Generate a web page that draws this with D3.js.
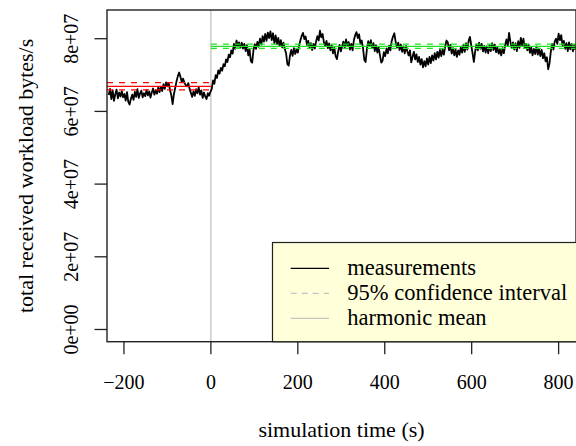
<!DOCTYPE html>
<html>
<head>
<meta charset="utf-8">
<script src="https://cdn.jsdelivr.net/npm/d3@7"></script>
<style>
  html, body { margin: 0; padding: 0; background: #fff; }
  svg { display: block; }
  text { font-family: "Liberation Serif", "Times New Roman", serif; fill: #000; }
</style>
</head>
<body>
<svg id="chart" width="576" height="446"></svg>
<script>
// Sampling: one measurement every 3 s, starting 235 s before the switch
const timeStart = -235;
const timeStep = 3;

// Total received workload, in millions of bytes per second
const throughputMBps = [
  64.5, 66.2, 63.4, 65.8, 62.9, 64.7, 66.0, 63.6, 65.2, 64.1,
  65.6, 63.9, 64.8, 63.0, 65.3, 62.6, 61.9, 63.5, 64.6, 63.2,
  65.4, 64.0, 66.1, 63.7, 64.9, 65.7, 63.9, 65.0, 64.2, 65.9,
  64.4, 65.5, 63.8, 65.2, 66.3, 64.6, 65.8, 64.9, 66.6, 65.3,
  66.8, 65.6, 67.5, 66.2, 68.0, 66.9, 67.8, 65.9, 64.4, 62.0,
  64.8, 66.5, 68.3, 69.7, 70.7, 69.5, 68.1, 69.0, 68.0, 67.2,
  66.9, 67.8, 66.2, 65.1, 64.0, 65.5, 64.3, 66.1, 65.0, 66.6,
  64.6, 65.8, 63.7, 65.2, 64.1, 63.4, 65.0, 64.3, 65.4, 66.2,
  68.5, 67.6, 70.0, 69.2, 71.3, 70.4, 72.0, 71.2, 73.0, 72.4,
  74.3, 73.6, 75.6, 74.9, 76.8, 75.9, 78.6, 77.2, 79.5, 77.8,
  79.0, 77.5, 78.9, 77.3, 78.6, 76.6, 78.2, 75.4, 77.0, 73.8,
  73.4, 76.9, 78.5, 77.2, 79.1, 77.8, 80.0, 78.4, 80.7, 79.2,
  81.3, 79.4, 81.7, 80.2, 82.0, 79.6, 81.5, 78.8, 80.9, 78.5,
  80.2, 78.0, 79.6, 77.6, 78.9, 77.2, 76.0, 73.0, 72.6, 75.4,
  76.9, 75.3, 77.4, 75.8, 77.0, 76.2, 78.1, 79.6, 80.8, 81.6,
  79.9, 80.6, 78.3, 79.4, 77.5, 78.8, 76.9, 78.6, 77.3, 79.2,
  80.7, 79.5, 82.2, 80.4, 81.3, 79.0, 78.0, 79.4, 77.4, 78.7,
  76.8, 78.2, 76.0, 77.5, 75.2, 74.4, 76.6, 78.3, 76.5, 78.0,
  79.2, 77.4, 79.8, 78.0, 79.1, 77.0, 78.6, 76.8, 79.6, 81.0,
  81.8, 80.2, 81.2, 78.6, 79.5, 77.4, 74.2, 73.6, 77.2, 79.3,
  78.0, 79.6, 77.5, 78.8, 76.6, 78.2, 76.2, 77.6, 75.4, 73.4,
  74.0, 76.3, 75.2, 77.3, 76.0, 78.1, 76.8, 79.4, 80.6, 81.5,
  79.2, 77.6, 78.9, 76.9, 78.4, 76.4, 77.9, 76.0, 78.0, 76.5,
  75.4, 76.8, 73.5, 75.0, 76.4, 74.3, 75.7, 73.6, 75.0, 72.9,
  74.4, 72.1, 73.8, 72.4, 74.6, 72.9, 75.0, 73.3, 75.4, 74.0,
  76.0, 74.3, 76.4, 74.8, 76.9, 75.2, 77.0, 75.6, 77.8, 79.5,
  79.0, 76.8, 78.3, 75.9, 77.4, 75.4, 77.0, 75.0, 76.8, 75.6,
  77.6, 76.2, 78.3, 76.4, 78.8, 77.0, 79.4, 80.5, 78.2, 76.0,
  73.6, 76.5, 78.4, 76.8, 78.9, 77.2, 78.6, 76.5, 78.0, 76.2,
  77.9, 76.0, 78.2, 76.6, 78.8, 76.9, 78.4, 76.3, 77.6, 75.9,
  77.0, 75.4, 77.4, 76.0, 78.3, 79.8, 78.0, 81.6, 79.2, 77.4,
  79.0, 77.0, 78.8, 76.6, 79.3, 77.5, 80.2, 78.2, 80.0, 77.4,
  78.6, 76.8, 78.4, 76.1, 77.6, 75.4, 77.2, 75.8, 77.9, 75.6,
  77.3, 75.2, 76.9, 74.6, 76.0, 73.8, 74.9, 71.6, 73.2, 76.4,
  78.6, 77.0, 79.2, 80.0, 78.6, 81.4, 79.6, 81.0, 78.2, 79.4,
  77.2, 78.8, 76.6, 79.0, 77.1, 78.6, 76.5, 78.2, 77.0
];

// Phase summaries: before and after the switch at t = 0 (MB/s)
const phaseStart = [-239, 0];
const phaseEnd = [0, 840];
const phaseHarmonicMean = [66.9, 77.9];
const phaseCiLow = [65.9, 77.35];
const phaseCiHigh = [67.9, 78.5];
const phaseColors = ["#ff0000", "#22e022"];

// Axis ticks
const xTicks = [-200, 0, 200, 400, 600, 800];
const yTicks = [0, 2e7, 4e7, 6e7, 8e7];
const yTickLabels = ["0e+00", "2e+07", "4e+07", "6e+07", "8e+07"];

// Legend entries
const legendLabels = ["measurements", "95% confidence interval", "harmonic mean"];
const legendColors = ["#000000", "#c4c4c4", "#c4c4c4"];
const legendDashes = [null, "6,5", null];

const MB = 1e6;
const series = throughputMBps.map((v, i) => ({ t: timeStart + i * timeStep, v: v * MB }));

const svg = d3.select("#chart");
const plot = { left: 107, right: 576, top: 10, bottom: 341.7 };

const x = d3.scaleLinear().domain([-239, 840]).range([plot.left, plot.right]);
const y = d3.scaleLinear().domain([-3.36e6, 87.9e6]).range([plot.bottom, plot.top]);

svg.append("defs").append("clipPath").attr("id", "plotclip")
  .append("rect")
  .attr("x", plot.left).attr("y", plot.top)
  .attr("width", plot.right - plot.left).attr("height", plot.bottom - plot.top);

const inner = svg.append("g").attr("clip-path", "url(#plotclip)");

// Switch marker at t = 0
inner.append("line")
  .attr("x1", x(0)).attr("x2", x(0))
  .attr("y1", plot.top).attr("y2", plot.bottom)
  .attr("stroke", "#bebebe").attr("stroke-width", 1.2);

// Measurements
inner.append("path")
  .datum(series)
  .attr("fill", "none")
  .attr("stroke", "#000")
  .attr("stroke-width", 1.8)
  .attr("stroke-linejoin", "round")
  .attr("d", d3.line().x(d => x(d.t)).y(d => y(d.v)));

// Harmonic means and confidence bounds per phase
phaseStart.forEach((s, k) => {
  const e = phaseEnd[k];
  [phaseCiLow[k], phaseCiHigh[k]].forEach(b => {
    inner.append("line")
      .attr("x1", x(s)).attr("x2", x(e))
      .attr("y1", y(b * MB)).attr("y2", y(b * MB))
      .attr("stroke", phaseColors[k]).attr("stroke-width", 1.3)
      .attr("stroke-dasharray", "6,6");
  });
  inner.append("line")
    .attr("x1", x(s)).attr("x2", x(e))
    .attr("y1", y(phaseHarmonicMean[k] * MB)).attr("y2", y(phaseHarmonicMean[k] * MB))
    .attr("stroke", phaseColors[k]).attr("stroke-width", 1.3);
});

// Frame
svg.append("rect")
  .attr("x", plot.left).attr("y", plot.top)
  .attr("width", plot.right - plot.left).attr("height", plot.bottom - plot.top)
  .attr("fill", "none").attr("stroke", "#222").attr("stroke-width", 1.4);

// X axis
const xAxis = svg.append("g");
xTicks.forEach(t => {
  xAxis.append("line")
    .attr("x1", x(t)).attr("x2", x(t))
    .attr("y1", plot.bottom).attr("y2", plot.bottom + 12.5)
    .attr("stroke", "#222").attr("stroke-width", 1.3);
  xAxis.append("text")
    .attr("x", x(t)).attr("y", 388.5)
    .attr("text-anchor", "middle")
    .attr("font-size", 20)
    .text(t < 0 ? "\u2212" + Math.abs(t) : String(t));
});

// Y axis
const yAxis = svg.append("g");
yTicks.forEach((t, k) => {
  yAxis.append("line")
    .attr("x1", plot.left - 12.5).attr("x2", plot.left)
    .attr("y1", y(t)).attr("y2", y(t))
    .attr("stroke", "#222").attr("stroke-width", 1.3);
  yAxis.append("text")
    .attr("transform", `translate(78.3,${y(t)}) rotate(-90)`)
    .attr("text-anchor", "middle")
    .attr("font-size", 20)
    .text(yTickLabels[k]);
});

// Axis titles
svg.append("text")
  .attr("x", (plot.left + plot.right) / 2).attr("y", 437)
  .attr("text-anchor", "middle")
  .attr("font-size", 22)
  .text("simulation time (s)");

svg.append("text")
  .attr("transform", `translate(33.3,${(plot.top + plot.bottom) / 2}) rotate(-90)`)
  .attr("text-anchor", "middle")
  .attr("font-size", 22)
  .text("total received workload bytes/s");

// Legend
const legend = svg.append("g");
legend.append("rect")
  .attr("x", 272.5).attr("y", 242.5)
  .attr("width", 320).attr("height", plot.bottom - 242.5)
  .attr("fill", "#ffffda").attr("stroke", "#222").attr("stroke-width", 1.2);

legendLabels.forEach((label, k) => {
  const ly = 268.3 + k * 25;
  const ln = legend.append("line")
    .attr("x1", 290.7).attr("x2", 329)
    .attr("y1", ly).attr("y2", ly)
    .attr("stroke", legendColors[k]).attr("stroke-width", 1.3);
  if (legendDashes[k]) ln.attr("stroke-dasharray", legendDashes[k]);
  legend.append("text")
    .attr("x", 347.3).attr("y", ly + 6.8)
    .attr("font-size", 22.5)
    .text(label);
});
</script>
</body>
</html>
